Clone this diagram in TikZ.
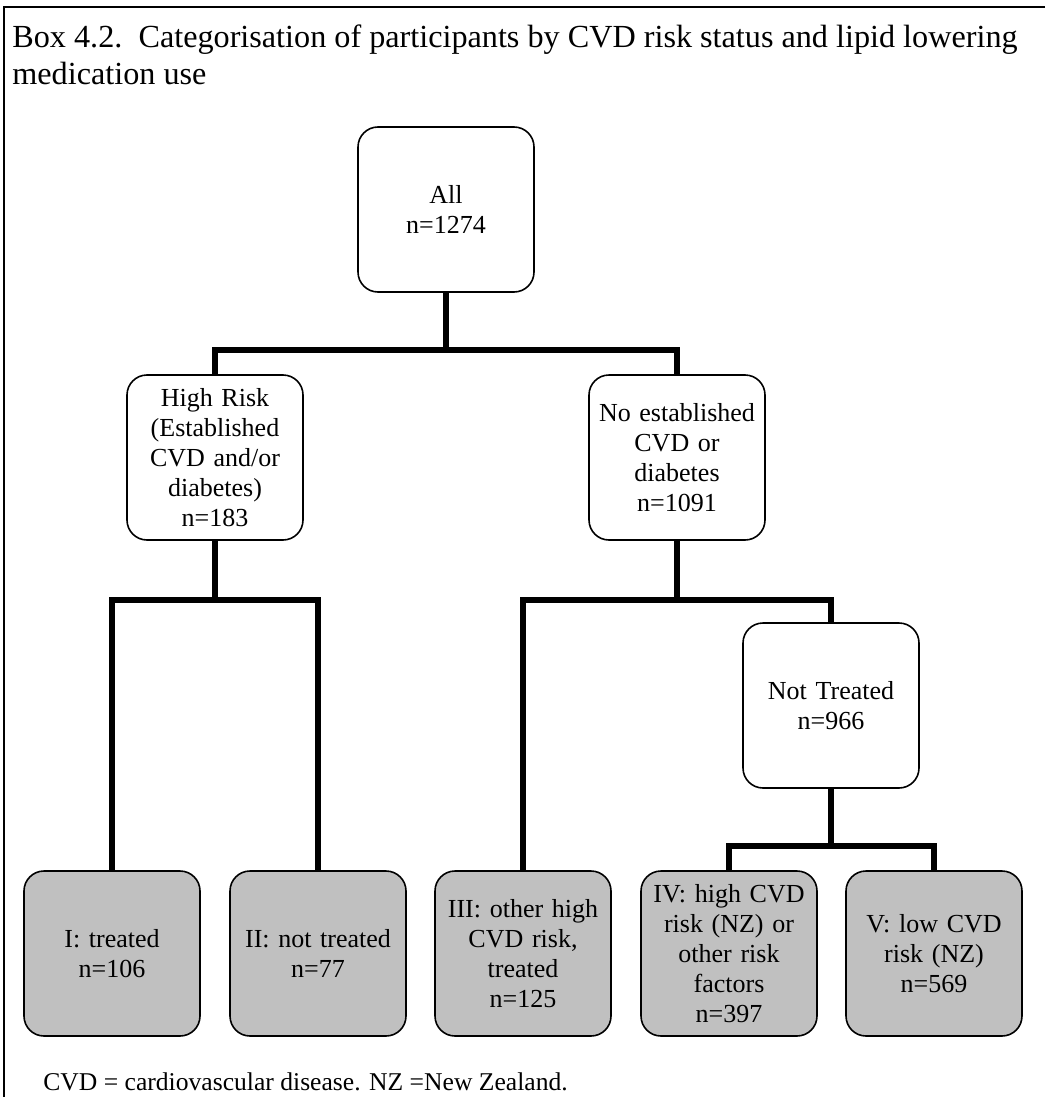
\documentclass[tikz,border=0pt]{standalone}
\usepackage{fontspec}
\setmainfont{Liberation Serif}
\usetikzlibrary{positioning}
\definecolor{boxgray}{RGB}{192,192,192}
\tikzset{box/.style = {draw, rounded corners=10pt, line width=0.8pt, minimum width=88pt,
                       minimum height=82.5pt, text width=84pt, align=center, inner sep=1pt,
                       font=\fontsize{13}{15}\selectfont},
         group/.style = {box, fill=boxgray},
         link/.style = {line width=3pt},
         caption/.style = {anchor=base west, inner sep=0pt, font=\fontsize{16.1}{18}\selectfont}}

\begin{document}
\begin{tikzpicture}[x=0.5pt,y=-0.5pt]
                \useasboundingbox (0,0) rectangle (1045,1097);
                \coordinate (tl) at (4,7);
                \coordinate (tr) at (1045,7);
                \coordinate (bl) at (4,1097);
                \draw[line width=1.2pt] (tr) -- (tl) -- (bl);
                \node[caption] (title1) at (12,48)
                    {Box 4.2.\ \ Categorisation of participants by CVD risk status and lipid lowering};
                \node[caption] (title2) at (12,85) {medication use};
                \node[box] (all) at (446,209.5) {All\\n=1274};
                \node[box] (hr) at (215,457.5) {High Risk\\(Established\\CVD and/or\\diabetes)\\n=183};
                \node[box] (ne) at (677,457.5) {No established\\CVD or\\diabetes\\n=1091};
                \node[box] (nt) at (831,705.5) {Not Treated\\n=966};
                \begin{scope}[every node/.style=group]
                    \node (g1) at (112,953.5) {I: treated\\n=106};
                    \node (g2) at (318,953.5) {II: not treated\\n=77};
                    \node (g3) at (523,953.5) {III: other high\\CVD risk,\\treated\\n=125};
                    \node (g4) at (729,953.5) {IV: high CVD\\risk (NZ) or\\other risk\\factors\\n=397};
                    \node (g5) at (934,953.5) {V: low CVD\\risk (NZ)\\n=569};
                \end{scope}
                \coordinate (j1) at (446,350);
                \coordinate (j2) at (215,600);
                \coordinate (j3) at (677,600);
                \coordinate (j4) at (831,846);
                \draw[link] (all.south) -- (j1);
                \draw[link] (hr.north) |- (j1) -| (ne.north);
                \draw[link] (hr.south) -- (j2);
                \draw[link] (g1.north) |- (j2) -| (g2.north);
                \draw[link] (ne.south) -- (j3);
                \draw[link] (g3.north) |- (j3) -| (nt.north);
                \draw[link] (nt.south) -- (j4);
                \draw[link] (g4.north) |- (j4) -| (g5.north);
                \node[anchor=base west, inner sep=0pt, font=\fontsize{12.8}{15}\selectfont] (note) at (43,1090)
                    {CVD = cardiovascular disease. NZ =New Zealand.};
            \end{tikzpicture}
\end{document}
